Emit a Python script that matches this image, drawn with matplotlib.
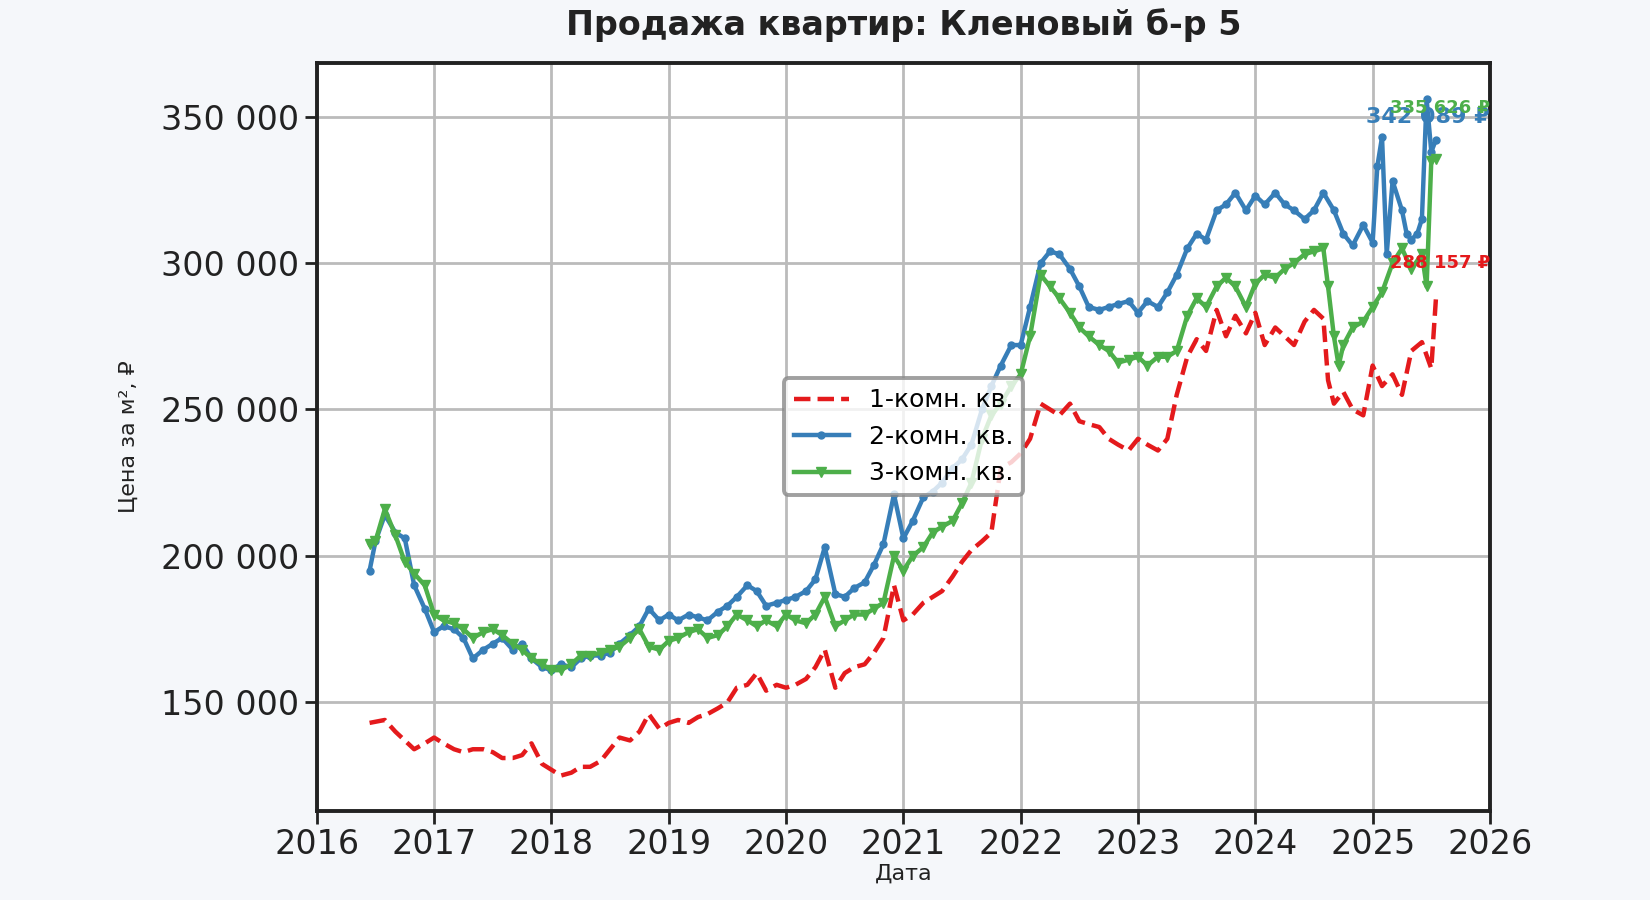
import matplotlib
matplotlib.use("Agg")
import matplotlib.pyplot as plt
from matplotlib.ticker import FuncFormatter, MultipleLocator

t_blue = [2016.45,2016.5,2016.58,2016.67,2016.75,2016.83,2016.92,2017.0,2017.08,2017.17,2017.25,2017.33,2017.42,2017.5,2017.58,2017.67,2017.75,2017.83,2017.92,2018.0,2018.08,2018.17,2018.25,2018.33,2018.42,2018.5,2018.58,2018.67,2018.75,2018.83,2018.92,2019.0,2019.08,2019.17,2019.25,2019.33,2019.42,2019.5,2019.58,2019.67,2019.75,2019.83,2019.92,2020.0,2020.08,2020.17,2020.25,2020.33,2020.42,2020.5,2020.58,2020.67,2020.75,2020.83,2020.92,2021.0,2021.08,2021.17,2021.25,2021.33,2021.42,2021.5,2021.58,2021.67,2021.75,2021.83,2021.92,2022.0,2022.08,2022.17,2022.25,2022.33,2022.42,2022.5,2022.58,2022.67,2022.75,2022.83,2022.92,2023.0,2023.08,2023.17,2023.25,2023.33,2023.42,2023.5,2023.58,2023.67,2023.75,2023.83,2023.92,2024.0,2024.08,2024.17,2024.25,2024.33,2024.42,2024.5,2024.58,2024.67,2024.75,2024.83,2024.92,2025.0,2025.04,2025.08,2025.12,2025.17,2025.25,2025.29,2025.33,2025.38,2025.42,2025.46,2025.5,2025.54]
v_blue = [195,205,214,208,206,190,182,174,176,175,172,165,168,170,172,168,170,165,162,161,163,162,165,166,166,167,170,173,176,182,178,180,178,180,179,178,181,183,186,190,188,183,184,185,186,188,192,203,187,186,189,191,197,204,221,206,212,220,222,225,230,233,238,250,258,265,272,272,285,300,304,303,298,292,285,284,285,286,287,283,287,285,290,296,305,310,308,318,320,324,318,323,320,324,320,318,315,318,324,318,310,306,313,307,333,343,303,328,318,310,308,310,315,356,338,342.089]

t_green = [2016.45,2016.5,2016.58,2016.67,2016.75,2016.83,2016.92,2017.0,2017.08,2017.17,2017.25,2017.33,2017.42,2017.5,2017.58,2017.67,2017.75,2017.83,2017.92,2018.0,2018.08,2018.17,2018.25,2018.33,2018.42,2018.5,2018.58,2018.67,2018.75,2018.83,2018.92,2019.0,2019.08,2019.17,2019.25,2019.33,2019.42,2019.5,2019.58,2019.67,2019.75,2019.83,2019.92,2020.0,2020.08,2020.17,2020.25,2020.33,2020.42,2020.5,2020.58,2020.67,2020.75,2020.83,2020.92,2021.0,2021.08,2021.17,2021.25,2021.33,2021.42,2021.5,2021.58,2021.67,2021.75,2021.83,2021.92,2022.0,2022.08,2022.17,2022.25,2022.33,2022.42,2022.5,2022.58,2022.67,2022.75,2022.83,2022.92,2023.0,2023.08,2023.17,2023.25,2023.33,2023.42,2023.5,2023.58,2023.67,2023.75,2023.83,2023.92,2024.0,2024.08,2024.17,2024.25,2024.33,2024.42,2024.5,2024.58,2024.62,2024.67,2024.71,2024.75,2024.83,2024.92,2025.0,2025.08,2025.17,2025.25,2025.33,2025.42,2025.46,2025.5,2025.54]
v_green = [204,205,216,207,198,194,190,180,178,177,175,172,174,175,173,170,168,165,163,161,161,163,166,166,167,168,169,172,175,169,168,171,172,174,175,172,173,176,180,178,176,178,176,180,178,177,180,186,176,178,180,180,182,184,200,195,200,203,208,210,212,218,225,240,248,252,258,262,275,296,292,288,283,278,275,272,270,266,267,268,265,268,268,270,282,288,285,292,295,292,285,293,296,295,298,300,303,304,305,292,275,265,272,278,280,285,290,300,305,298,303,292,335,335.626]

t_red = [2016.45,2016.58,2016.67,2016.75,2016.83,2016.92,2017.0,2017.08,2017.17,2017.25,2017.33,2017.42,2017.5,2017.58,2017.67,2017.75,2017.83,2017.92,2018.0,2018.08,2018.17,2018.25,2018.33,2018.42,2018.5,2018.58,2018.67,2018.75,2018.83,2018.92,2019.0,2019.08,2019.17,2019.25,2019.33,2019.42,2019.5,2019.58,2019.67,2019.75,2019.83,2019.92,2020.0,2020.08,2020.17,2020.25,2020.33,2020.42,2020.5,2020.58,2020.67,2020.75,2020.83,2020.92,2021.0,2021.08,2021.17,2021.25,2021.33,2021.42,2021.5,2021.58,2021.67,2021.75,2021.83,2021.92,2022.0,2022.08,2022.17,2022.25,2022.33,2022.42,2022.5,2022.58,2022.67,2022.75,2022.83,2022.92,2023.0,2023.08,2023.17,2023.25,2023.33,2023.42,2023.5,2023.58,2023.67,2023.75,2023.83,2023.92,2024.0,2024.08,2024.17,2024.25,2024.33,2024.42,2024.5,2024.58,2024.62,2024.67,2024.75,2024.83,2024.92,2025.0,2025.08,2025.17,2025.25,2025.33,2025.42,2025.5,2025.54]
v_red = [143,144,140,137,134,136,138,136,134,133,134,134,133,131,131,132,136,129,127,125,126,128,128,130,134,138,137,140,146,141,143,144,143,145,146,148,150,155,156,160,154,156,155,156,158,162,168,155,160,162,163,167,172,190,178,180,184,186,188,193,198,202,205,208,230,232,235,240,252,250,248,252,246,245,244,240,238,236,240,238,236,240,255,268,274,270,284,275,282,276,283,272,278,275,272,280,284,281,260,252,256,250,248,265,258,262,255,270,273,264,288.157]

labels = ["1-комн. кв.", "2-комн. кв.", "3-комн. кв."]
last_labels = ["288 157 ₽", "342 089 ₽", "335 626 ₽"]
years = list(range(2016, 2027))

bg = "#f5f7fa"
c_red, c_blue, c_green = "#e41a1c", "#377eb8", "#4daf4a"

fig = plt.figure(figsize=(16.5, 9), dpi=100, facecolor=bg)
ax = fig.add_axes([0.192, 0.099, 0.711, 0.831])
ax.set_facecolor("white")

k = 1000
ax.plot(t_red, [v*k for v in v_red], color=c_red, lw=3.2, ls="--", label=labels[0], zorder=3)
ax.plot(t_blue, [v*k for v in v_blue], color=c_blue, lw=3.2, marker="o", ms=5, label=labels[1], zorder=3)
ax.plot(t_green, [v*k for v in v_green], color=c_green, lw=3.2, marker="v", ms=7, label=labels[2], zorder=3)

ax.text(2026, 300000, last_labels[0], color=c_red, fontsize=13, fontweight="bold", ha="right", va="center")
ax.text(2026, 350000, last_labels[1], color=c_blue, fontsize=16, fontweight="bold", ha="right", va="center")
ax.text(2026, 353000, last_labels[2], color=c_green, fontsize=13, fontweight="bold", ha="right", va="center")

ax.set_xlim(2016, 2026)
ax.set_ylim(112950, 368300)
ax.set_xticks(years)
ax.set_xticklabels([str(y) for y in years])
ax.yaxis.set_major_locator(MultipleLocator(50000))
ax.yaxis.set_major_formatter(FuncFormatter(lambda v, p: f"{int(v):,}".replace(",", " ")))
ax.tick_params(labelsize=24, length=9, width=2, colors="#222222")
ax.grid(True, color="#bbbbbb", lw=2)
for s in ax.spines.values():
    s.set_linewidth(2.8)
    s.set_color("#222222")

ax.set_title("Продажа квартир: Кленовый б-р 5", fontsize=24, fontweight="bold", color="#222222", pad=20)
ax.set_xlabel("Дата", fontsize=16, color="#222222", labelpad=2)
ax.set_ylabel("Цена за м², ₽", fontsize=16, color="#222222", labelpad=16)

leg = ax.legend(loc="center", bbox_to_anchor=(0.50, 0.50), fontsize=18, frameon=True, fancybox=True, handlelength=2.2)
leg.get_frame().set_edgecolor("#888888")
leg.get_frame().set_linewidth(2.8)

fig.savefig("out.png", dpi=100, facecolor=bg)
